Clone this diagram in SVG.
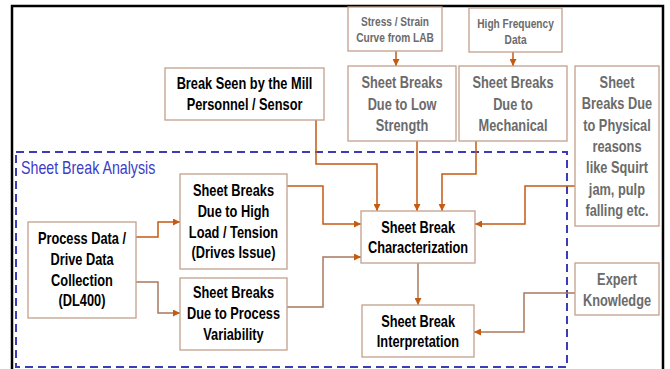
<svg xmlns="http://www.w3.org/2000/svg" width="670" height="369" viewBox="0 0 670 369">
<style>
.box{fill:#fff;stroke:#c2a08c;stroke-width:1.3}
.t{font-family:"Liberation Sans",Arial,sans-serif;font-weight:bold;font-size:16px;text-anchor:middle;transform-box:fill-box;transform-origin:center;transform:scaleX(0.8)}
.k{fill:#000}
.g{fill:#6b6b6b}
.s{font-size:13px;transform:scaleX(0.78)}
.lbl{font-family:"Liberation Sans",Arial,sans-serif;font-size:18px;fill:#3c3cc8;transform-box:fill-box;transform-origin:left center;transform:scaleX(0.79)}
.c{fill:none;stroke:#c55a11;stroke-width:1.5}
.cb{stroke:#a87a62}
</style>
<defs>
<marker id="ah" viewBox="0 0 10 10" refX="10" refY="5" markerWidth="7" markerHeight="7" markerUnits="userSpaceOnUse" orient="auto">
<path d="M0,0 L10,5 L0,10 z" fill="#c55a11"/>
</marker>
</defs>
<rect width="670" height="369" fill="#fff"/>
<path d="M12,372 V6 H663 V372" fill="none" stroke="#000" stroke-width="2.5"/>
<g id="analysis">
<rect x="16" y="152" width="551" height="215" fill="none" stroke="#3c3cb4" stroke-width="2" stroke-dasharray="8,5"/>
<text class="lbl" x="21" y="174">Sheet Break Analysis</text>
</g>
<g id="connectors">
<path class="c" d="M396,51 V66" marker-end="url(#ah)"/>
<path class="c" d="M513,52 V66" marker-end="url(#ah)"/>
<path class="c" d="M316,120 V164 H377 V211" marker-end="url(#ah)"/>
<path class="c" d="M417,141 V211" marker-end="url(#ah)"/>
<path class="c" d="M476,141 V174 H442 V211" marker-end="url(#ah)"/>
<path class="c" d="M575,186 H525 V224 H475" marker-end="url(#ah)"/>
<path class="c" d="M287,186 H323 V224 H361" marker-end="url(#ah)"/>
<path class="c cb" d="M287,307 H323 V257 H361" marker-end="url(#ah)"/>
<path class="c" d="M136,237 H158 V222 H180" marker-end="url(#ah)"/>
<path class="c cb" d="M136,282 H158 V313 H180" marker-end="url(#ah)"/>
<path class="c cb" d="M418,263 V305" marker-end="url(#ah)"/>
<path class="c cb" d="M575,293 H524 V332 H474" marker-end="url(#ah)"/>
</g>
<g id="break-seen">
<rect class="box" x="165" y="68" width="159" height="52"/>
<text class="t k" x="244.5" y="89">Break Seen by the Mill</text>
<text class="t k" x="244.5" y="110">Personnel / Sensor</text>
</g>
<g id="stress-strain">
<rect class="box" x="348" y="7" width="94" height="44"/>
<text class="t g s" x="395" y="26">Stress / Strain</text>
<text class="t g s" x="395" y="42">Curve from LAB</text>
</g>
<g id="high-frequency">
<rect class="box" x="469" y="8" width="93" height="44"/>
<text class="t g s" x="515.5" y="28">High Frequency</text>
<text class="t g s" x="515.5" y="44">Data</text>
</g>
<g id="low-strength">
<rect class="box" x="348" y="66" width="108" height="75"/>
<text class="t g" x="402" y="88">Sheet Breaks</text>
<text class="t g" x="402" y="110">Due to Low</text>
<text class="t g" x="402" y="131">Strength</text>
</g>
<g id="mechanical">
<rect class="box" x="459" y="66" width="108" height="75"/>
<text class="t g" x="513" y="88">Sheet Breaks</text>
<text class="t g" x="513" y="110">Due to</text>
<text class="t g" x="513" y="131">Mechanical</text>
</g>
<g id="physical">
<rect class="box" x="575" y="66" width="84" height="160"/>
<text class="t g" x="617" y="88">Sheet</text>
<text class="t g" x="617" y="109.5">Breaks Due</text>
<text class="t g" x="617" y="131">to Physical</text>
<text class="t g" x="617" y="152">reasons</text>
<text class="t g" x="617" y="173.5">like Squirt</text>
<text class="t g" x="617" y="195">jam, pulp</text>
<text class="t g" x="617" y="216">falling etc.</text>
</g>
<g id="expert">
<rect class="box" x="575" y="263" width="84" height="52"/>
<text class="t g" x="617" y="285">Expert</text>
<text class="t g" x="617" y="306">Knowledge</text>
</g>
<g id="characterization">
<rect class="box" x="361" y="211" width="114" height="52"/>
<text class="t k" x="418" y="233">Sheet Break</text>
<text class="t k" x="418" y="253">Characterization</text>
</g>
<g id="interpretation">
<rect class="box" x="362" y="305" width="112" height="52"/>
<text class="t k" x="418" y="327">Sheet Break</text>
<text class="t k" x="418" y="347">Interpretation</text>
</g>
<g id="high-load">
<rect class="box" x="180" y="174" width="107" height="95"/>
<text class="t k" x="233.5" y="196">Sheet Breaks</text>
<text class="t k" x="233.5" y="217">Due to High</text>
<text class="t k" x="233.5" y="238">Load / Tension</text>
<text class="t k" x="233.5" y="258">(Drives Issue)</text>
</g>
<g id="process-variability">
<rect class="box" x="180" y="278" width="107" height="72"/>
<text class="t k" x="233.5" y="298">Sheet Breaks</text>
<text class="t k" x="233.5" y="319">Due to Process</text>
<text class="t k" x="233.5" y="340">Variability</text>
</g>
<g id="process-data">
<rect class="box" x="28" y="222" width="108" height="96"/>
<text class="t k" x="82" y="244">Process Data /</text>
<text class="t k" x="82" y="265">Drive Data</text>
<text class="t k" x="82" y="286">Collection</text>
<text class="t k" x="82" y="306">(DL400)</text>
</g>
</svg>
